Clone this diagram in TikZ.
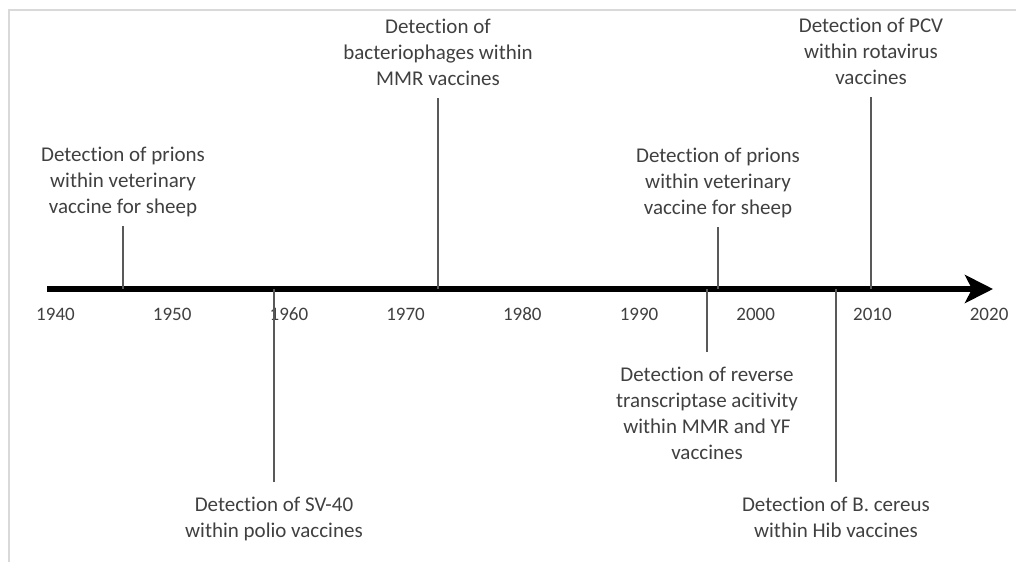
\documentclass[tikz,border=0pt]{standalone}
\usepackage{fontspec}
\setmainfont{Carlito}[Ligatures=NoCommon]
\usetikzlibrary{arrows.meta}
\definecolor{txt}{HTML}{404040}
\definecolor{evline}{HTML}{595959}
\definecolor{frame}{HTML}{D9D9D9}
\tikzset{
  lbl/.style={font=\fontsize{21}{26}\selectfont, text=txt, align=center, inner sep=0pt},
  uplbl/.style={lbl, anchor=south, outer sep=4.5pt},
  downlbl/.style={lbl, anchor=north, outer sep=11pt},
  yearlbl/.style={font=\fontsize{19}{22}\selectfont, text=txt, inner sep=0pt, anchor=base},
  evconn/.style={draw=evline, line width=1.4pt},
  axisline/.style={line width=6pt, -{Stealth[length=28pt,width=28pt,inset=7pt]}},
  framel/.style={draw=frame, line width=2pt}
}
\begin{document}
\begin{tikzpicture}[x=1pt,y=-1pt]
\useasboundingbox (0,0) rectangle (1016,562);
\draw[framel] (9,562) -- (9,10) -- (1017,10);
% axis
\coordinate (ax0) at (47,289);
\coordinate (ax1) at (993,289);
\draw[axisline] (ax0) -- (ax1);
% years
\foreach \y [count=\i from 0] in {1940,1950,1960,1970,1980,1990,2000,2010,2020}{
  \node[yearlbl] (yr\y) at ({55.5+116.7*\i},320.5) {\y};
}
% events above
\node[uplbl] (evA) at (123,226) {\strut Detection of prions\\within veterinary\\vaccine for sheep\strut};
\node[uplbl] (evC) at (438,98) {\strut Detection of\\bacteriophages within\\MMR vaccines\strut};
\node[uplbl] (evD) at (718,227) {\strut Detection of prions\\within veterinary\\vaccine for sheep\strut};
\node[uplbl] (evF) at (871,97) {\strut Detection of PCV\\within rotavirus\\vaccines\strut};
% events below
\node[downlbl] (evB) at (274,482) {\strut Detection of SV-40\\within polio vaccines\strut};
\node[downlbl] (evE) at (707,352) {\strut Detection of reverse\\transcriptase acitivity\\within MMR and YF\\vaccines\strut};
\node[downlbl] (evG) at (836,482) {\strut Detection of B. cereus\\within Hib vaccines\strut};
% connectors
\foreach \n in {evA,evC,evD,evF}{
  \draw[evconn] (\n.south) -- (\n.south |- ax0);
}
\foreach \n in {evB,evE,evG}{
  \draw[evconn] (\n.north) -- (\n.north |- ax0);
}
\end{tikzpicture}
\end{document}
